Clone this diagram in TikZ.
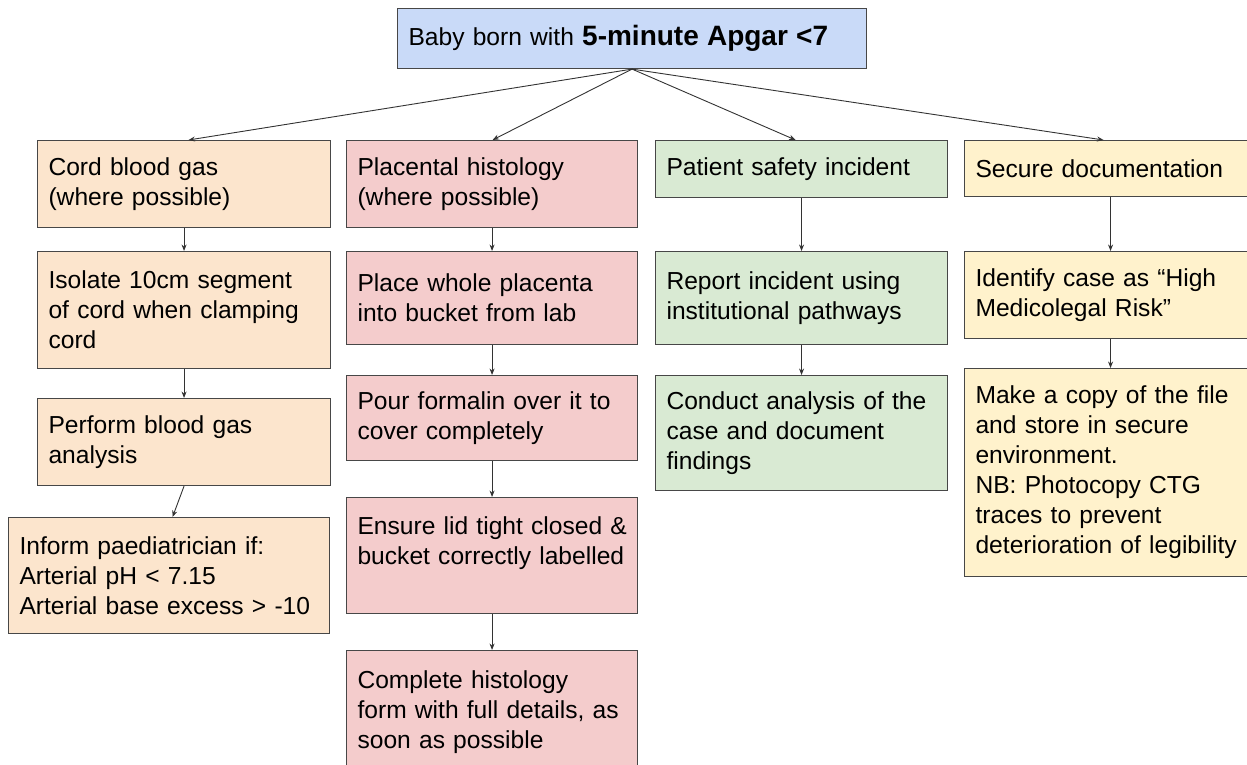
\documentclass[tikz,border=0pt]{standalone}
\usepackage{fontspec}
\setmainfont{Liberation Sans}
\usetikzlibrary{arrows.meta}

\definecolor{topblue}{HTML}{C9DAF8}
\definecolor{cordfill}{HTML}{FCE5CD}
\definecolor{histfill}{HTML}{F4CCCC}
\definecolor{safefill}{HTML}{D9EAD3}
\definecolor{docfill}{HTML}{FFF2CC}

\tikzset{
  box/.style={draw=black!72, line width=1.1pt, anchor=north west, align=left,
              inner xsep=11pt, inner ysep=0pt,
              font=\fontsize{24.6}{30}\selectfont},
  colcord/.style={box, fill=cordfill, minimum width=293pt, text width=271pt},
  colhist/.style={box, fill=histfill, minimum width=291pt, text width=269pt},
  colsafe/.style={box, fill=safefill, minimum width=292pt, text width=270pt},
  coldoc/.style={box, fill=docfill, minimum width=292pt, text width=270pt},
  link/.style={draw=black!80, line width=0.9pt, -{Stealth[length=6.5pt,width=5pt]}},
}

\begin{document}
\begin{tikzpicture}[x=1pt, y=-1pt]
\useasboundingbox (0,0) rectangle (1247,765);

% root
\node[box, fill=topblue, minimum width=469pt, minimum height=60pt, text width=447pt]
  (top) at (397,8) {Baby born with {\fontsize{28}{30}\selectfont\bfseries 5-minute Apgar <7}};

% cord blood gas branch
\node[colcord, minimum height=87pt]  (c1a) at (37,140) {Cord blood gas\\(where possible)};
\node[colcord, minimum height=117pt] (c1b) at (37,251) {Isolate 10cm segment\\of cord when clamping\\cord};
\node[colcord, minimum height=87pt]  (c1c) at (37,398) {Perform blood gas\\analysis};
\node[box, fill=cordfill, minimum width=321pt, text width=299pt, minimum height=116pt]
  (c1d) at (8,517) {Inform paediatrician if:\\Arterial pH < 7.15\\Arterial base excess > -10};

% placental histology branch
\node[colhist, minimum height=87pt]  (c2a) at (346,140) {Placental histology\\(where possible)};
\node[colhist, minimum height=93pt]  (c2b) at (346,251) {Place whole placenta\\into bucket from lab};
\node[colhist, minimum height=85pt]  (c2c) at (346,375) {Pour formalin over it to\\cover completely};
\node[colhist, minimum height=116pt] (c2d) at (346,497) {\mbox{Ensure lid tight closed \&}\\\mbox{bucket correctly labelled}\\\mbox{}};
\node[colhist, minimum height=124pt] (c2e) at (346,650) {Complete histology\\form with full details, as\\soon as possible};

% patient safety branch
\node[colsafe, minimum height=57pt]  (c3a) at (655,140) {Patient safety incident};
\node[colsafe, minimum height=93pt]  (c3b) at (655,251) {Report incident using\\institutional pathways};
\node[colsafe, minimum height=115pt] (c3c) at (655,375) {Conduct analysis of the\\case and document\\findings};

% documentation branch
\node[coldoc, minimum height=56pt]  (c4a) at (964,140) {Secure documentation};
\node[coldoc, minimum height=87pt]  (c4b) at (964,251) {Identify case as “High\\Medicolegal Risk”};
\node[coldoc, minimum height=208pt] (c4c) at (964,368) {Make a copy of the file\\and store in secure\\environment.\\NB: Photocopy CTG\\traces to prevent\\deterioration of legibility};

% links from the root
\draw[link] (top.south) -- ([xshift=4.5pt]c1a.north);
\draw[link] (top.south) -- ([xshift=0.5pt]c2a.north);
\draw[link] (top.south) -- ([xshift=-6pt]c3a.north);
\draw[link] (top.south) -- ([xshift=-7pt]c4a.north);

% links within each branch
\draw[link] (c1a.south) -- (c1b.north);
\draw[link] (c1b.south) -- (c1c.north);
\draw[link] (c1c.south) -- ([xshift=3.5pt]c1d.north);

\draw[link] (c2a.south) -- (c2b.north);
\draw[link] (c2b.south) -- (c2c.north);
\draw[link] (c2c.south) -- (c2d.north);
\draw[link] (c2d.south) -- (c2e.north);

\draw[link] (c3a.south) -- (c3b.north);
\draw[link] (c3b.south) -- (c3c.north);

\draw[link] (c4a.south) -- (c4b.north);
\draw[link] (c4b.south) -- (c4c.north);
\end{tikzpicture}
\end{document}
